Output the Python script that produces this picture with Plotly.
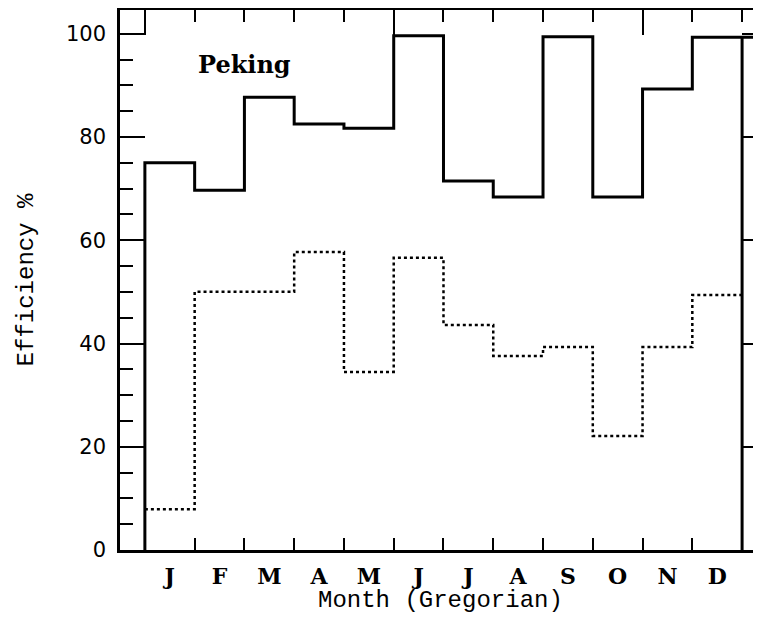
import plotly.graph_objects as go

# monthly efficiency (%), Peking
months = ["J", "F", "M", "A", "M", "J", "J", "A", "S", "O", "N", "D"]
solid_vals = [75, 69.7, 87.7, 82.5, 81.7, 99.6, 71.5, 68.4, 99.4, 68.4, 89.3, 99.3]
dotted_vals = [7.9, 50, 50, 57.7, 34.5, 56.6, 43.6, 37.6, 39.3, 22.1, 39.3, 49.4]

n = len(months)
edges = list(range(n + 1))
centers = [i + 0.5 for i in range(n)]
x_right = 12.38

# step lines: each value holds from month edge i to i+1
sx = [0] + edges[:-1] + [x_right]
sy = [0] + solid_vals + [solid_vals[-1]]
dx = edges
dy = dotted_vals + [dotted_vals[-1]]

fig = go.Figure()
fig.add_trace(go.Scatter(x=sx, y=sy, mode="lines", line_shape="hv",
                         line=dict(color="black", width=3), cliponaxis=False,
                         showlegend=False, hoverinfo="skip"))
fig.add_trace(go.Scatter(x=dx, y=dy, mode="lines", line_shape="hv",
                         line=dict(color="black", width=2.5, dash="dot"),
                         xaxis="x2", yaxis="y2", showlegend=False, hoverinfo="skip"))

# drop of the solid curve at the end of December
fig.add_shape(type="line", x0=edges[-1], x1=edges[-1], y0=0, y1=solid_vals[-1],
              xref="x", yref="y", line=dict(color="black", width=3))

fig.add_annotation(x=2, y=94, xref="x", yref="y", text="<b>Peking</b>", showarrow=False,
                   font=dict(family="DejaVu Serif", size=24, color="black"))
# x axis title
fig.add_annotation(x=0.5, y=0, xref="paper", yref="paper", yanchor="middle", yshift=-50,
                   text="Month (Gregorian)", showarrow=False, borderpad=0,
                   font=dict(family="Liberation Mono", size=24, color="black"))

xr = [-0.5, x_right]
yr = [0, 104.6]

# page body has an 8px margin, so the figure is sized to fit without scrollbars
fig.update_layout(
    width=753, height=607,
    margin=dict(l=112, r=0, t=2, b=65),
    plot_bgcolor="white", paper_bgcolor="white",
    xaxis=dict(range=xr, showgrid=False, zeroline=False, automargin=False,
               showline=True, linecolor="black", linewidth=2.5,
               tickmode="array", tickvals=centers, ticktext=months,
               ticks="inside", ticklen=0, ticklabelstandoff=5,
               tickfont=dict(family="DejaVu Serif", size=22, color="black", weight="bold"),
               minor=dict(tickmode="array", tickvals=edges, ticks="inside",
                          ticklen=12, tickwidth=2, tickcolor="black")),
    xaxis2=dict(range=xr, overlaying="x", side="top", showgrid=False, zeroline=False,
                automargin=False, showline=True, linecolor="black", linewidth=2.5,
                tick0=0, dtick=5, ticks="inside", ticklen=25, tickwidth=2,
                tickcolor="black", showticklabels=False,
                minor=dict(dtick=1, ticks="inside", ticklen=12, tickwidth=2,
                           tickcolor="black")),
    yaxis=dict(range=yr, showgrid=False, zeroline=False, automargin=False,
               showline=True, linecolor="black", linewidth=2.5,
               tick0=0, dtick=20, ticks="inside", ticklen=25, tickwidth=2,
               tickcolor="black", ticklabelstandoff=7,
               tickfont=dict(family="DejaVu Sans", size=21, color="black"),
               minor=dict(dtick=5, ticks="inside", ticklen=13, tickwidth=2,
                          tickcolor="black"),
               title=dict(text="Efficiency %", standoff=26,
                          font=dict(family="Liberation Mono", size=24, color="black"))),
    yaxis2=dict(range=yr, overlaying="y", side="right", showgrid=False, zeroline=False,
                automargin=False, showline=False, tick0=0, dtick=20, ticks="inside",
                ticklen=19, tickwidth=2, tickcolor="black", showticklabels=False,
                minor=dict(dtick=5, ticks="inside", ticklen=7, tickwidth=2,
                           tickcolor="black")),
)

fig.write_html("out.html")
